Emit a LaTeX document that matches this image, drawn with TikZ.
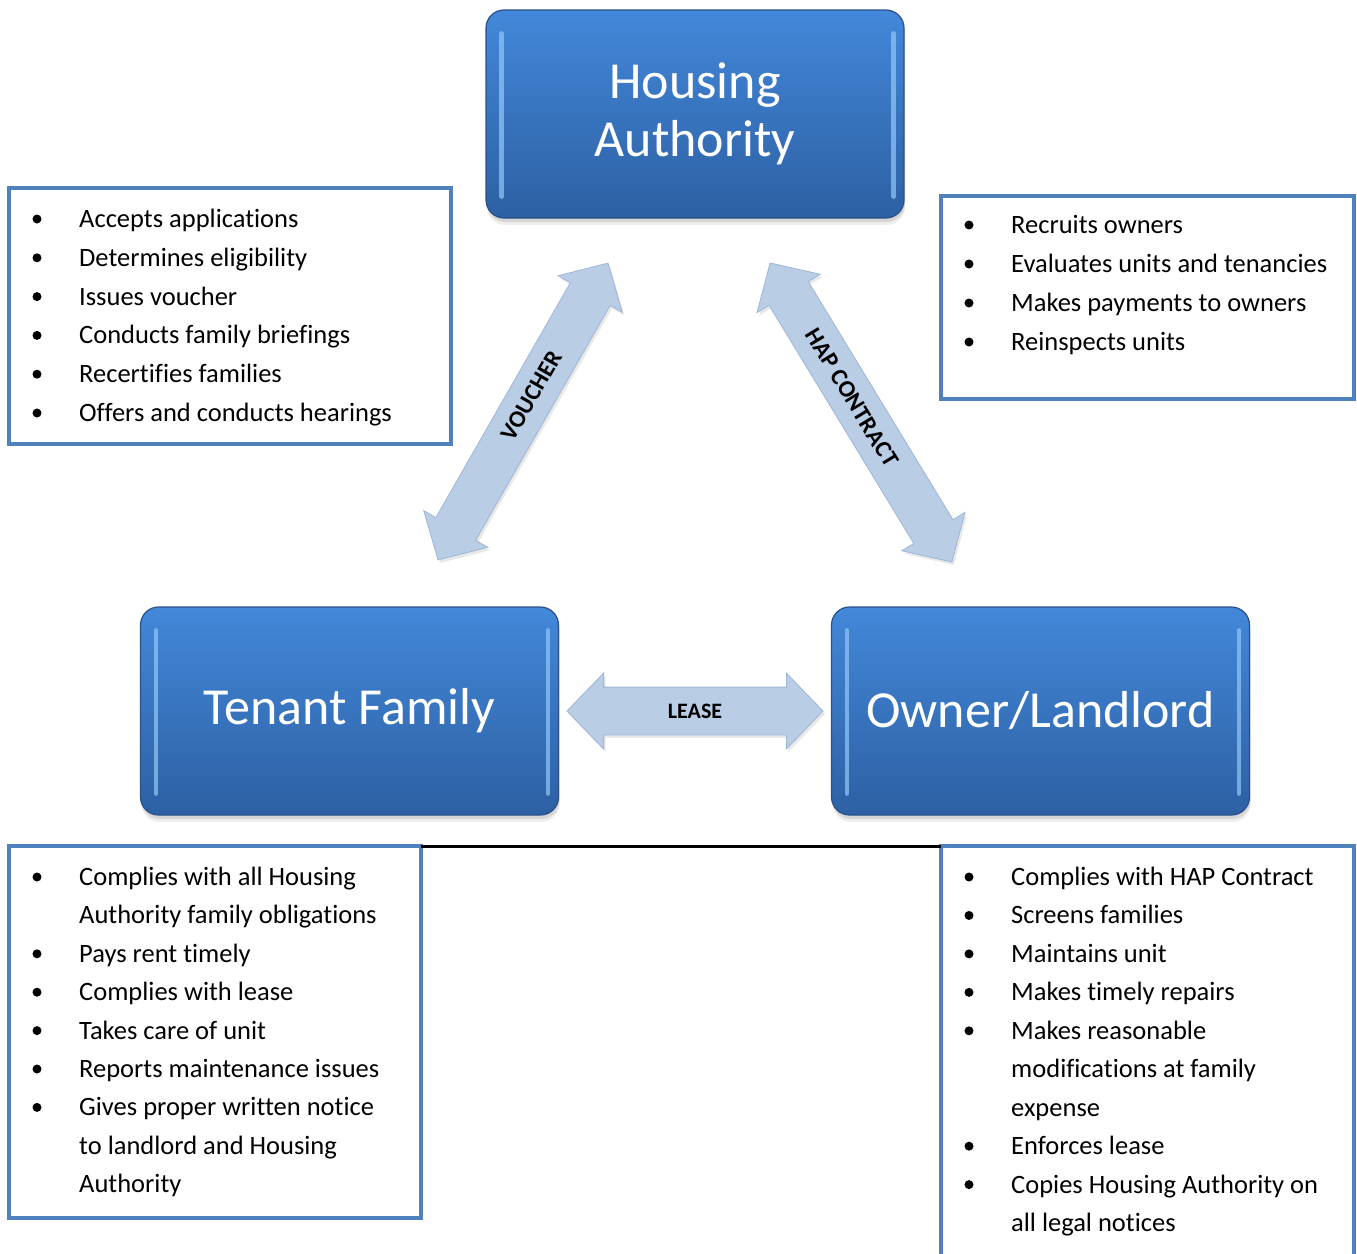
\documentclass[tikz,border=0pt]{standalone}
\usepackage{fontspec}
\setmainfont{Carlito}[Ligatures=NoCommon]
\usetikzlibrary{shapes.arrows,shadows}

\definecolor{listblue}{HTML}{4F81BD}
\definecolor{boxtop}{HTML}{4388DA}
\definecolor{boxbot}{HTML}{2D60A3}
\definecolor{boxedge}{HTML}{2A5189}
\definecolor{boxglow}{HTML}{93C8F6}
\definecolor{arrowfill}{HTML}{B9CDE5}
\definecolor{arrowedge}{HTML}{9DB6D8}

\tikzset{
  rolebox/.style={rectangle, rounded corners=18pt, draw=boxedge, line width=1.2pt,
    top color=boxtop, bottom color=boxbot,
    minimum width=418pt, minimum height=208pt, inner sep=0pt,
    text=white, align=center, font=\fontsize{52}{58}\selectfont,
    drop shadow={shadow xshift=1pt, shadow yshift=-7pt, opacity=0.12},
    drop shadow={shadow xshift=1pt, shadow yshift=-4pt, opacity=0.22}},
  glow/.style={boxglow, line width=4.5pt, line cap=round, opacity=0.7},
  blockarrow/.style={double arrow, fill=arrowfill, draw=arrowedge, line width=0.8pt,
    double arrow head extend=14pt, double arrow tip angle=92,
    inner xsep=0pt, inner ysep=0pt, text height=30pt, text depth=15pt,
    font=\bfseries\fontsize{24}{24}\selectfont,
    drop shadow={shadow xshift=2pt, shadow yshift=-3pt, opacity=0.18}},
  listbox/.style={rectangle, draw=listblue, line width=4pt, fill=white,
    inner sep=0pt, outer sep=0pt, anchor=north west},
  listtext/.style={anchor=base west, inner sep=0pt,
    font=\fontsize{26.5}{32}\selectfont},
  bulletdot/.style={circle, fill=black, inner sep=0pt, minimum size=9pt}
}

% #1 name prefix, #2 bullet x, #3 first baseline y, #4 line spacing, #5 entries flag/text
\newcommand\roleitems[5]{%
  \foreach \k/\t [count=\i] in {#5}{%
    \node[listtext] (#1\i) at (#2+42, -#3-#4*\i+#4) {\t};
    \ifnum\k=1 \node[bulletdot] (#1b\i) at (#2, -#3-#4*\i+#4+8.5) {};\fi
  }%
}

\begin{document}
\begin{tikzpicture}[x=1pt,y=1pt]
  \fill[white] (0,0) rectangle (1357,-1253);
  \useasboundingbox (0,0) rectangle (1357,-1253);

  % duty lists
  \node[listbox, minimum width=442pt, minimum height=256.5pt] (halist) at (8.5,-187.5) {};
  \node[listbox, minimum width=413pt, minimum height=203pt] (hlist) at (941,-195.5) {};
  \node[listbox, minimum width=412pt, minimum height=372pt] (tflist) at (9,-846) {};
  \node[listbox, minimum width=413pt, minimum height=422pt] (oflist) at (941,-846) {};
  \draw[black, line width=3pt] (tflist.north east) -- (oflist.north west);

  \roleitems{ha}{37}{227.5}{38.8}{1/Accepts applications, 1/Determines eligibility,
    1/Issues voucher, 1/Conducts family briefings, 1/Recertifies families,
    1/Offers and conducts hearings}
  \roleitems{hp}{969}{233.5}{39}{1/Recruits owners, 1/Evaluates units and tenancies,
    1/Makes payments to owners, 1/Reinspects units}
  \roleitems{tf}{37}{885.5}{38.4}{1/Complies with all Housing, 0/Authority family obligations,
    1/Pays rent timely, 1/Complies with lease, 1/Takes care of unit,
    1/Reports maintenance issues, 1/Gives proper written notice,
    0/to landlord and Housing, 0/Authority}
  \roleitems{ol}{969}{885.5}{38.45}{1/Complies with HAP Contract, 1/Screens families,
    1/Maintains unit, 1/Makes timely repairs, 1/Makes reasonable,
    0/modifications at family, 0/expense, 1/Enforces lease,
    1/Copies Housing Authority on, 0/all legal notices}

  % the three parties
  \node[rolebox] (ha) at (695,-114) {Housing\\Authority};
  \node[rolebox] (tf) at (349.5,-711) {Tenant Family};
  \node[rolebox] (ol) at (1040.5,-711) {Owner/Landlord};
  \foreach \b in {ha,tf,ol}{
    \draw[glow] ([xshift=16pt,yshift=-24pt]\b.north west) -- ([xshift=16pt,yshift=22pt]\b.south west);
    \draw[glow] ([xshift=-11pt,yshift=-24pt]\b.north east) -- ([xshift=-11pt,yshift=22pt]\b.south east);
  }

  % agreements between the parties
  \node[blockarrow, minimum height=342pt, rotate=60.2] (voucher) at (523,-411.5)
    {\hspace*{36pt}VOUCHER};
  \node[blockarrow, minimum height=350pt, rotate=-58.7] (hap) at (861,-412.5)
    {HAP CONTRACT\hspace*{35pt}};
  \node[blockarrow, minimum height=256pt, text height=30.5pt, text depth=16.5pt,
    font=\bfseries\fontsize{22}{22}\selectfont] (lease) at (695,-711) {LEASE};
\end{tikzpicture}
\end{document}
